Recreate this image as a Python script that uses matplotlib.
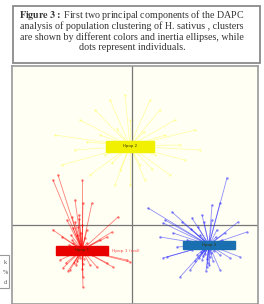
import matplotlib.pyplot as plt
from matplotlib.patches import Rectangle

plt.rcParams['mathtext.fontset'] = 'stix'

# DAPC scores, axes in arbitrary units
cl_names = ['Hpop 1', 'Hpop 2', 'Hpop 3']
cl_colors = ['#ff0000', '#ffff00', '#2020ff']
box_colors = ['#e80000', '#f0f000', '#1a6fb0']
centroids = [(-5.0, -2.5), (-0.2, 7.9), (7.7, -2.0)]

red_x = [-7.9, -7.4, -5.0, -5.7, -4.9, -4.0, -1.4, -7.9, -6.5, -2.0, -2.5,
         -0.5, -0.2, -1.9, -4.9, -4.9, -6.9, -7.2, -6.2, -3.5, -2.5,
         -6.0, -5.5, -4.5, -6.5, -4.0, -5.8, -4.8, -6.3, -3.8, -5.0, -6.0,
         -5.3, -4.5, -7.0, -3.2, -5.6, -4.2, -6.6, -3.0, -5.9,
         -5.4, -5.1, -5.7, -6.1, -4.7, -5.2, -5.5, -6.4, -5.0, -5.8, -4.4,
         -6.8, -5.3, -5.9, -4.9]
red_y = [4.5, 5.0, 4.5, 2.5, 2.2, 2.2, 0.8, -0.5, 0.5, -0.7, -1.2,
         -3.5, -3.7, -4.2, -5.2, -6.2, -4.3, -3.5, -4.5, -4.2, -3.8,
         -1.5, -1.0, -1.8, -3.0, -3.0, -3.8, -3.4, -2.0, -2.2, 0.0, 0.8,
         1.0, -0.5, -1.2, -1.5, -4.0, -4.0, -3.8, -2.8, -0.3,
         -0.2, -0.8, 0.3, -1.0, -1.3, -3.3, -3.6, -4.6, -4.4, -2.9, -2.6,
         -2.8, 0.6, -1.8, -3.9]

yel_x = [-7.7, -7.0, -3.7, -2.2, -0.7, 1.8, 4.3, 6.3, 5.3, 3.8, 1.3, -1.7,
         -4.2, -5.7, 6.8, -5.2, 2.8, -1.2, 0.8, -3.2, 3.3, -2.7, 2.3, -0.2,
         -0.2, -1.5, 1.2, -4.5, 4.8, -2.0, 2.0]
yel_y = [9.0, 6.0, 11.5, 12.5, 13.0, 12.5, 10.5, 9.5, 6.5, 5.0, 4.5, 4.0,
         5.0, 7.5, 7.5, 10.5, 11.5, 5.5, 6.0, 9.0, 9.0, 7.0, 7.0, 10.5,
         4.0, 9.6, 9.3, 8.3, 8.0, 6.2, 5.6]

blu_x = [9.5, 1.6, 4.0, 8.0, 8.8, 3.3, 3.1, 6.0, 10.6, 11.5, 3.5, 3.1, 4.8,
         5.8, 7.5, 9.8, 10.8, 8.8, 2.8, 4.1,
         6.5, 7.0, 7.8, 8.2, 6.8, 8.5, 7.2, 6.0, 9.0, 7.6, 6.3, 8.8, 5.5,
         9.3, 7.4, 6.6, 5.0, 7.0, 8.0, 4.5,
         7.3, 7.1, 7.9, 6.9, 7.5, 8.1, 6.7, 7.7, 7.2, 8.4, 6.4, 5.9]
blu_y = [4.7, 1.7, 1.3, 2.0, 2.2, 0.5, 0.2, 0.7, 0.3, -0.7, -3.2, -3.3, -5.2,
         -4.5, -4.2, -3.3, -3.2, -4.5, -1.2, -0.8,
         -3.0, -3.5, -3.2, -2.6, -1.0, -0.5, 0.3, -2.5, -1.5, -3.8, -3.6,
         -3.0, -1.5, -0.8, -4.6, -0.2, 0.3, 1.0, 0.5, -2.2,
         -2.9, -3.1, -2.8, -2.7, -3.4, -3.6, -3.3, -4.0, -2.5, -1.2, -1.9,
         -0.4]

caption = ['First two principal components of the DAPC',
           'analysis of population clustering of H. sativus , clusters',
           'are shown by different colors and inertia ellipses, while',
           'dots represent individuals.']

W, H = 264, 304
fig = plt.figure(figsize=(W / 100, H / 100), dpi=100)
fig.patch.set_facecolor('white')

# caption box
fig.patches.append(Rectangle((13 / W, 1 - 63 / H), 247 / W, 57 / H,
                             transform=fig.transFigure, fill=False,
                             edgecolor='#8a8a8a', linewidth=1.3))
serif = ['Liberation Serif', 'DejaVu Serif']
fs = 7.2
fig.text(0.5, 1 - 15 / H, r'$\mathbf{Figure\ 3:}$ ' + caption[0],
         ha='center', va='center', fontsize=fs, family=serif, color='#333333')
for i, line in enumerate(caption[1:]):
    fig.text(0.5, 1 - (26 + 11 * i) / H, line, ha='center', va='center',
             fontsize=fs, family=serif, color='#333333')

# stray bits from the neighbouring page
fig.patches.append(Rectangle((-2 / W, 1 - 288 / H), 11 / W, 33 / H,
                             transform=fig.transFigure, fill=False,
                             edgecolor='#999999', linewidth=0.8))
for i, s in enumerate(['k', '%', 'd']):
    fig.text(5 / W, 1 - (262 + 10 * i) / H, s, fontsize=4.5, family=serif,
             color='#555555', ha='center', va='center')

ax = fig.add_axes([12 / W, 0, 246 / W, 238 / H])
ax.set_facecolor('#fffff3')
ax.set_xlim(-12, 12.6)
ax.set_ylim(-7.9, 15.9)
ax.set_xticks([])
ax.set_yticks([])
for sp in ax.spines.values():
    sp.set_color('#9a9a9a')
    sp.set_linewidth(1.2)
ax.axhline(0, color='#777777', lw=0.9, zorder=1)
ax.axvline(0, color='#777777', lw=0.9, zorder=1)

groups = [(red_x, red_y, 0.5), (yel_x, yel_y, 0.3), (blu_x, blu_y, 0.5)]
for k, (gx, gy, a) in enumerate(groups):
    cx, cy = centroids[k]
    for x, y in zip(gx, gy):
        ax.plot([cx, x], [cy, y], color=cl_colors[k], lw=0.6, alpha=a, zorder=2)
    ax.scatter(gx, gy, s=3, color=cl_colors[k], alpha=a, zorder=3, linewidths=0)

box_w = [5.2, 4.8, 5.2]
box_h = [0.9, 1.1, 0.8]
for k in range(3):
    cx, cy = centroids[k]
    ax.add_patch(Rectangle((cx - box_w[k] / 2, cy - box_h[k] / 2), box_w[k],
                           box_h[k], color=box_colors[k], zorder=4))
    ax.text(cx, cy, cl_names[k], fontsize=2.8, ha='center', va='center',
            color='#333300', zorder=5)
ax.text(-2.0, -2.6, 'Hpop 1 (red)', fontsize=3.2, color='#ff5050',
        va='center', zorder=3)

fig.savefig('out.png', dpi=100)
